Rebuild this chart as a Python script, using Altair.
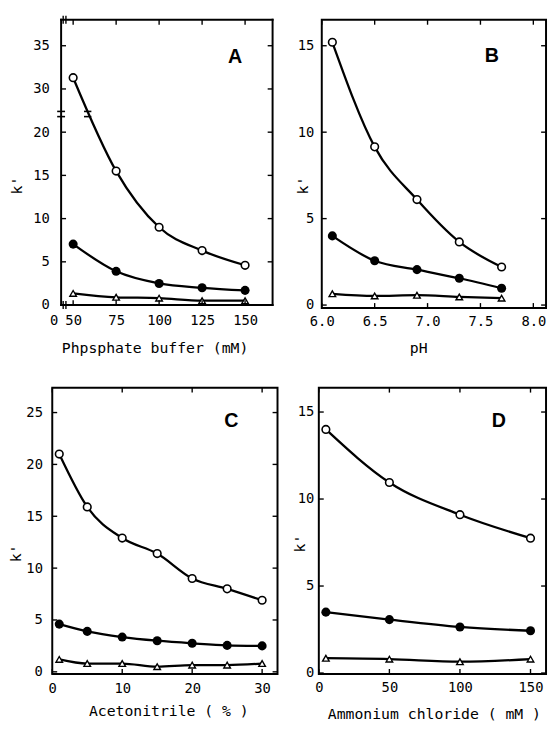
import altair as alt
import pandas as pd

SERIES = ["open", "filled", "tri"]

# ---- Panel A : phosphate buffer (mM) ----
A_x = [50, 75, 100, 125, 150]
A_open = [31.3, 15.5, 9.0, 6.3, 4.6]
A_filled = [7.05, 3.9, 2.5, 2.0, 1.7]
A_tri = [1.35, 0.9, 0.8, 0.5, 0.5]
A_xticks = [50, 75, 100, 125, 150]
A_ytick_pos = [0, 5, 10, 15, 20, 25, 30]          # positions on the broken axis
A_ytick_labels = ["0", "5", "10", "15", "20", "30", "35"]
A_ybreak = [21.8, 22.4]                            # axis-break symbol levels
A_xbreak = [44.2, 45.8]
A_curve_break_x = [56.3, 60.6]

# ---- Panel B : pH ----
B_x = [6.1, 6.5, 6.9, 7.3, 7.7]
B_open = [15.2, 9.15, 6.1, 3.65, 2.2]
B_filled = [4.0, 2.56, 2.05, 1.55, 0.97]
B_tri = [0.65, 0.53, 0.57, 0.47, 0.4]
B_xticks = [6.0, 6.5, 7.0, 7.5, 8.0]
B_yticks = [0, 5, 10, 15]

# ---- Panel C : acetonitrile (%) ----
C_x = [1, 5, 10, 15, 20, 25, 30]
C_open = [21.0, 15.9, 12.9, 11.4, 9.0, 8.0, 6.9]
C_filled = [4.6, 3.9, 3.35, 3.0, 2.75, 2.55, 2.5]
C_tri = [1.2, 0.8, 0.8, 0.5, 0.65, 0.65, 0.8]
C_xticks = [0, 10, 20, 30]
C_yticks = [0, 5, 10, 15, 20, 25]

# ---- Panel D : ammonium chloride (mM) ----
D_x = [5, 50, 100, 150]
D_open = [14.0, 10.95, 9.1, 7.75]
D_filled = [3.5, 3.07, 2.65, 2.43]
D_tri = [0.85, 0.8, 0.65, 0.8]
D_xticks = [0, 50, 100, 150]
D_yticks = [0, 5, 10, 15]

MONO = "DejaVu Sans Mono"


def long_df(x, o, f, t):
    rows = []
    for s, vals in zip(SERIES, [o, f, t]):
        for xi, yi in zip(x, vals):
            rows.append({"x": xi, "k": yi, "s": s})
    return pd.DataFrame(rows)


def panel(df, xticks, ytick_pos, xdom, ydom, W, H, xtitle, ytx, yty, xtx, xty,
          ylab_pad, xlab_pad, letter, lx, ly, yexpr="datum.k", ylabel_expr=None,
          xfmt="d", x0=0):
    """x0: horizontal offset of the drawn frame inside the view (0 = view edge)."""
    xs = alt.Scale(domain=xdom, range=[x0, W], nice=False, zero=False)
    ys = alt.Scale(domain=ydom, nice=False, zero=False)
    ykw = dict(values=ytick_pos, title="k'", ticks=False, domain=False, grid=False,
               labelPadding=ylab_pad, labelFont=MONO, labelFontSize=14,
               titleFont=MONO, titleFontSize=15, titleFontWeight="normal",
               titleX=ytx, titleY=yty, titleBaseline="middle", titleAlign="center",
               labelColor="black", titleColor="black")
    if ylabel_expr:
        ykw["labelExpr"] = ylabel_expr
    xaxis = alt.Axis(values=xticks, title=xtitle, ticks=False, domain=False, grid=False,
                     labelPadding=xlab_pad, labelFont=MONO, labelFontSize=14, format=xfmt,
                     titleFont=MONO, titleFontSize=15, titleFontWeight="normal",
                     titleX=xtx, titleY=xty, titleBaseline="middle", titleAlign="center",
                     labelColor="black", titleColor="black", labelOverlap=False,
                     labelFlush=False)
    yaxis = alt.Axis(**ykw)
    X = lambda f: alt.X(f, scale=xs, axis=xaxis)
    Y = lambda f: alt.Y(f, scale=ys, axis=yaxis)

    base = alt.Chart(df).transform_calculate(yp=yexpr)
    line = base.mark_line(color="black", strokeWidth=2.3, interpolate="monotone").encode(
        x=X("x:Q"), y=Y("yp:Q"), detail="s:N")
    p_open = base.transform_filter("datum.s == 'open'").mark_circle(
        size=60, color="white", stroke="black", strokeWidth=1.6, opacity=1).encode(
        x=X("x:Q"), y=Y("yp:Q"))
    p_fill = base.transform_filter("datum.s == 'filled'").mark_circle(
        size=85, color="black", opacity=1).encode(x=X("x:Q"), y=Y("yp:Q"))
    p_tri = base.transform_filter("datum.s == 'tri'").mark_point(
        shape="triangle-up", filled=True, color="white", stroke="black", strokeWidth=1.4,
        size=45, opacity=1).encode(x=X("x:Q"), y=Y("yp:Q"))

    xt = alt.Chart(pd.DataFrame({"x": xticks}))
    yt = alt.Chart(pd.DataFrame({"yp": ytick_pos}))
    ts = dict(color="black", strokeWidth=1.4)
    tb = xt.mark_rule(**ts).encode(x=X("x:Q"), y=alt.value(H), y2=alt.value(H - 5))
    tt = xt.mark_rule(**ts).encode(x=X("x:Q"), y=alt.value(0), y2=alt.value(5))
    tl = yt.mark_rule(**ts).encode(y=Y("yp:Q"), x=alt.value(x0), x2=alt.value(x0 + 5))
    tr = yt.mark_rule(**ts).encode(y=Y("yp:Q"), x=alt.value(W - 5), x2=alt.value(W))
    lab = alt.Chart(pd.DataFrame({"t": [letter]})).mark_text(
        font="Liberation Sans", fontSize=20, fontWeight="bold", color="black",
        baseline="middle", align="center").encode(
        text="t:N", x=alt.value(lx), y=alt.value(ly))
    layers = [line, p_open, p_fill, p_tri, tb, tt, tl, tr, lab]
    if x0:
        one = alt.Chart(pd.DataFrame({"i": [0]}))
        fs = dict(color="black", strokeWidth=2, strokeCap="square")
        layers += [
            one.mark_rule(**fs).encode(x=alt.value(x0), y=alt.value(0), y2=alt.value(H)),
            one.mark_rule(**fs).encode(x=alt.value(W), y=alt.value(0), y2=alt.value(H)),
            one.mark_rule(**fs).encode(y=alt.value(0), x=alt.value(x0), x2=alt.value(W)),
            one.mark_rule(**fs).encode(y=alt.value(H), x=alt.value(x0), x2=alt.value(W)),
        ]
    return layers, X, Y


# Panel A (broken y axis: values above the break are drawn 5 units lower)
WA, HA, XA0 = 224, 290, 9
dfA = long_df(A_x, A_open, A_filled, A_tri)
A_label_expr = "datum.value > 22.5 ? '' + (datum.value + 5) : datum.label"
layersA, XA, YA = panel(dfA, A_xticks, A_ytick_pos, [43, 166], [0, 33.0], WA, HA,
                        "Phpsphate buffer (mM)", -36, 168, 104, 43, 3, 9, "A", 186, 38,
                        yexpr="datum.k > 22.5 ? datum.k - 5 : datum.k",
                        ylabel_expr=A_label_expr, x0=XA0)
brk = alt.Chart(pd.DataFrame({"yp": A_ybreak}))
axis_break = brk.mark_rule(color="black", strokeWidth=1.6).encode(
    y=YA("yp:Q"), x=alt.value(XA0 - 4), x2=alt.value(XA0 + 4))
cb = alt.Chart(pd.DataFrame({"yp": A_ybreak,
                             "x": [A_curve_break_x[0]] * 2,
                             "x2": [A_curve_break_x[1]] * 2}))
curve_break = cb.mark_rule(color="black", strokeWidth=1.6).encode(
    y=YA("yp:Q"), x=XA("x:Q"), x2="x2:Q")
xb = alt.Chart(pd.DataFrame({"x": A_xbreak}))
xbreak_bot = xb.mark_rule(color="black", strokeWidth=1.4).encode(
    x=XA("x:Q"), y=alt.value(HA - 4), y2=alt.value(HA + 4))
xbreak_top = xb.mark_rule(color="black", strokeWidth=1.4).encode(
    x=XA("x:Q"), y=alt.value(-4), y2=alt.value(4))
zero_lab = alt.Chart(pd.DataFrame({"t": ["0"]})).mark_text(
    font=MONO, fontSize=14, color="black", baseline="top", align="center").encode(
    text="t:N", x=alt.value(2), y=alt.value(HA + 9))
chartA = alt.layer(*layersA, axis_break, curve_break, xbreak_bot, xbreak_top,
                   zero_lab).properties(width=WA, height=HA,
                                        view=alt.ViewBackground(stroke="transparent"))

dfB = long_df(B_x, B_open, B_filled, B_tri)
layersB, _, _ = panel(dfB, B_xticks, B_yticks, [6.0, 8.12], [-0.17, 16.5], 228, 293,
                      "pH", -19, 168, 98, 40, 8, 7, "B", 173, 37, xfmt=".1f")
chartB = alt.layer(*layersB).properties(width=228, height=293)

HC = 291
dfC = long_df(C_x, C_open, C_filled, C_tri)
layersC, _, _ = panel(dfC, C_xticks, C_yticks, [0, 32.2], [-0.2, 27.4], 229, HC,
                      "Acetonitrile ( % )", -37, 168, 118, 37, 10, 8, "C", 182, 34)
chartC = alt.layer(*layersC).properties(width=229, height=HC)

dfD = long_df(D_x, D_open, D_filled, D_tri)
layersD, _, _ = panel(dfD, D_xticks, D_yticks, [0, 161], [-0.05, 16.4], 231, HC,
                      "Ammonium chloride ( mM )", -20, 158, 117, 40, 5, 7, "D", 183, 34)
chartD = alt.layer(*layersD).properties(width=231, height=HC)

row1 = alt.hconcat(chartA, chartB, spacing=20)
row2 = alt.hconcat(chartC, chartD, spacing=12)
chart = alt.vconcat(row1, row2, spacing=30).properties(
    padding={"left": 0, "top": 0, "right": 0, "bottom": 0}, background="white"
).configure_view(stroke="black", strokeWidth=2)

chart.save("out.html", embed_options={"renderer": "svg", "actions": False})
